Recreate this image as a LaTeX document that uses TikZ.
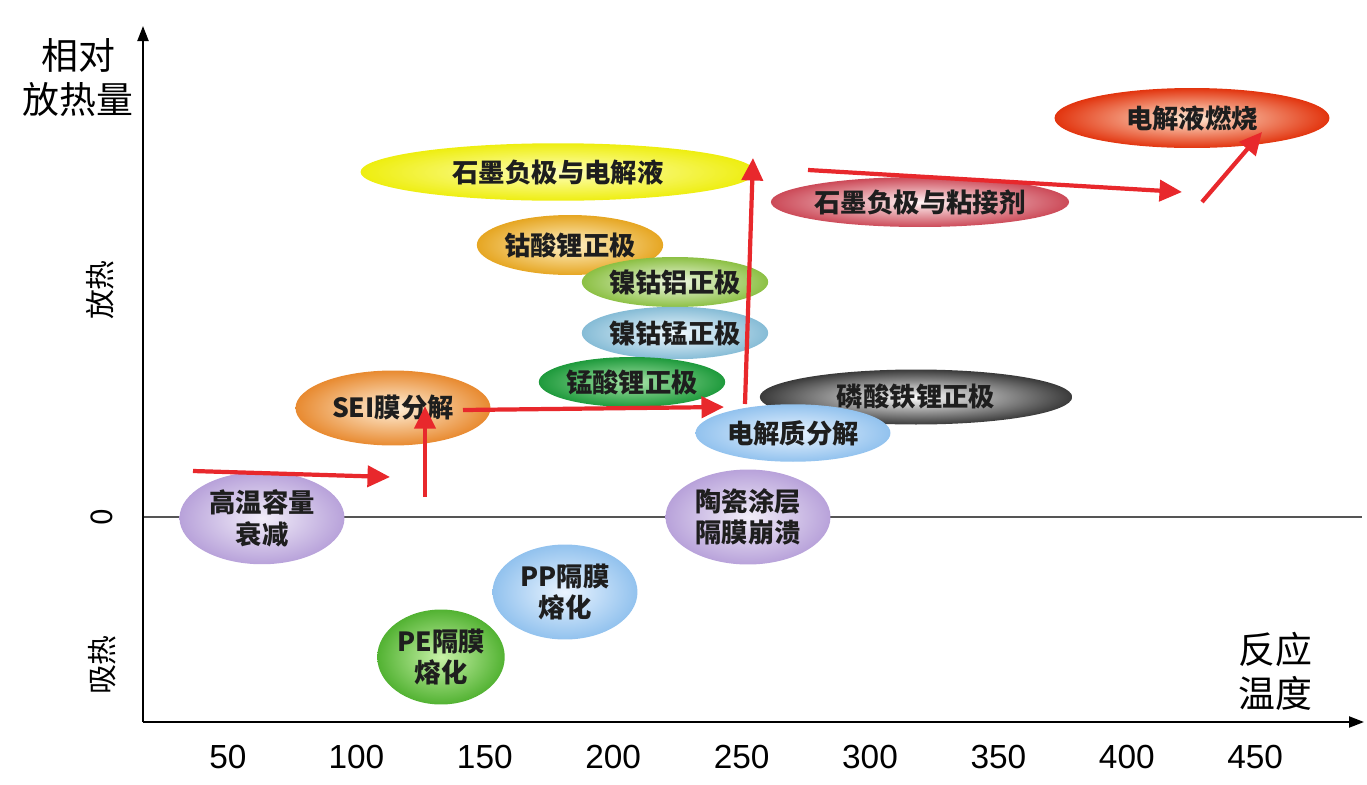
\documentclass[tikz,border=0pt]{standalone}
\usepackage{fontspec}
\setmainfont{Noto Sans CJK SC}
\newfontfamily\numfont{Liberation Sans}
\usepackage{xcolor}
\usepackage{tikz}
\usetikzlibrary{arrows.meta,shapes.geometric}
\definecolor{Ink}{HTML}{1E1E1E}
\definecolor{HeatRed}{HTML}{E8282C}
\definecolor{ZeroRule}{HTML}{555555}
\definecolor{Lemon}{HTML}{EEEE10}
\definecolor{LemonIn}{HTML}{FFFFB8}
\definecolor{Gold}{HTML}{E6A622}
\definecolor{GoldIn}{HTML}{FFF2C8}
\definecolor{Leaf}{HTML}{8CC044}
\definecolor{LeafIn}{HTML}{F0F8E4}
\definecolor{Aqua}{HTML}{86BCD6}
\definecolor{AquaIn}{HTML}{F2FAFF}
\definecolor{Forest}{HTML}{1E9A3C}
\definecolor{ForestIn}{HTML}{A8E4A8}
\definecolor{Amber}{HTML}{E88A30}
\definecolor{AmberIn}{HTML}{FFF0DA}
\definecolor{Sky}{HTML}{92C2EE}
\definecolor{SkyIn}{HTML}{EAF4FF}
\definecolor{Coal}{HTML}{3A3A3A}
\definecolor{Lilac}{HTML}{B8A2DA}
\definecolor{LilacIn}{HTML}{F2EEF9}
\definecolor{Grass}{HTML}{52B232}
\definecolor{GrassIn}{HTML}{C8F2A8}
\definecolor{Rose}{HTML}{CC4A58}
\definecolor{RoseIn}{HTML}{FFF4F5}
\definecolor{Flame}{HTML}{E2340E}
\definecolor{FlameIn}{HTML}{FFEAD4}

\begin{document}
\begin{tikzpicture}[x=0.02cm,y=-0.02cm,
  blob/.style={ellipse,inner sep=0pt,align=center,text=Ink,font=\fontsize{15}{18}\selectfont\bfseries},
  heat/.style={line width=2.4pt,HeatRed,-{Triangle[length=0.45cm,width=0.42cm]}},
  axis/.style={line width=1.2pt,black,-{Triangle[length=0.3cm,width=0.22cm]}},
  axlabel/.style={font=\fontsize{21}{25}\selectfont,align=center,text=black},
  sidelabel/.style={font=\fontsize{17}{20}\selectfont,rotate=90,text=black},
  ticklabel/.style={font=\numfont\fontsize{19}{22}\selectfont,text=black}]
  \useasboundingbox (0,0) rectangle (1367,785);
  % axes and zero line
  \coordinate (origin) at (143,722);
  \coordinate (ytop) at (143,26);
  \coordinate (xend) at (1364,722);
  \coordinate (zl) at (143,517);
  \coordinate (zr) at (1362,517);
  \draw[ZeroRule,line width=0.8pt] (zl) -- (zr);
  \draw[axis] (origin) -- (ytop);
  \draw[axis] (origin) -- (xend);
  \node[axlabel] (ylab) at (78,78) {相对\\放热量};
  \node[axlabel] (xlab) at (1275,671) {反应\\温度};
  \node[sidelabel] (exo) at (100,290) {放热};
  \node[sidelabel] (zero) at (102,517) {0};
  \node[sidelabel] (endo) at (102,665) {吸热};
  \foreach \t [count=\i from 0] in {50,100,...,450}{
    \node[ticklabel] (tick\t) at (228+128.4*\i,757) {\t};
  }
  % reactions
  \node[blob,minimum width=7.9cm,minimum height=1.15cm,inner color=LemonIn,outer color=Lemon] (anodeel) at (558,172) {石墨负极与电解液};
  \node[blob,minimum width=3.7cm,minimum height=1.2cm,inner color=GoldIn,outer color=Gold] (lco) at (570,245) {钴酸锂正极};
  \node[blob,minimum width=3.7cm,minimum height=1.0cm,inner color=LeafIn,outer color=Leaf] (nca) at (675,282) {镍钴铝正极};
  \node[blob,minimum width=3.7cm,minimum height=1.05cm,inner color=AquaIn,outer color=Aqua] (ncm) at (675,333) {镍钴锰正极};
  \node[blob,minimum width=3.65cm,minimum height=1.0cm,inner color=ForestIn,outer color=Forest] (lmo) at (632,382) {锰酸锂正极};
  \node[blob,minimum width=3.9cm,minimum height=1.5cm,inner color=AmberIn,outer color=Amber] (sei) at (393,408) {SEI膜分解};
  \node[blob,minimum width=6.25cm,minimum height=1.1cm,inner color=white,outer color=Coal] (lfp) at (916,397) {磷酸铁锂正极};
  \node[blob,minimum width=3.9cm,minimum height=1.15cm,inner color=SkyIn,outer color=Sky] (elyte) at (793,433) {电解质分解};
  \node[blob,minimum width=3.3cm,minimum height=1.85cm,inner color=LilacIn,outer color=Lilac] (fade) at (262,518) {高温容量\\衰减};
  \node[blob,minimum width=3.3cm,minimum height=1.9cm,inner color=LilacIn,outer color=Lilac] (ceram) at (748,517) {陶瓷涂层\\隔膜崩溃};
  \node[blob,minimum width=2.9cm,minimum height=1.9cm,inner color=SkyIn,outer color=Sky] (ppmelt) at (565,592) {PP隔膜\\熔化};
  \node[blob,minimum width=2.55cm,minimum height=1.9cm,inner color=GrassIn,outer color=Grass] (pemelt) at (441,657) {PE隔膜\\熔化};
  \node[blob,minimum width=5.5cm,minimum height=1.0cm,inner color=RoseIn,outer color=Rose] (binder) at (920,202) {石墨负极与粘接剂};
  \node[blob,minimum width=5.5cm,minimum height=1.2cm,inner color=FlameIn,outer color=Flame] (burn) at (1192,118) {电解液燃烧};
  % heat path
  \coordinate (h1a) at (193,471);
  \coordinate (h1b) at (390,477);
  \coordinate (h2a) at (425,497);
  \coordinate (h2b) at (425,406);
  \coordinate (h3a) at (463,410);
  \coordinate (h3b) at (724,407);
  \coordinate (h4a) at (745,404);
  \coordinate (h4b) at (753,158);
  \coordinate (h5a) at (808,170);
  \coordinate (h5b) at (1182,192);
  \coordinate (h6a) at (1202,202);
  \coordinate (h6b) at (1262,132);
  \draw[heat] (h1a) -- (h1b);
  \draw[heat] (h2a) -- (h2b);
  \draw[heat] (h3a) -- (h3b);
  \draw[heat] (h4a) -- (h4b);
  \draw[heat] (h5a) -- (h5b);
  \draw[heat] (h6a) -- (h6b);
\end{tikzpicture}
\end{document}
